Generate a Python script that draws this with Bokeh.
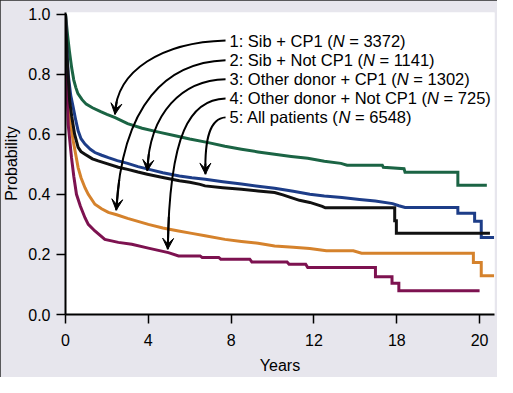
from bokeh.plotting import figure
from bokeh.models import Range1d, FixedTicker, PrintfTickFormatter, ColumnDataSource, Arrow, VeeHead
from bokeh.core.properties import value
from bokeh.embed import file_html
from bokeh.resources import INLINE

# ---------------- data ----------------
x_ticks = [0, 4, 8, 12, 16, 20]
x_tick_labels = ["0", "4", "8", "12", "18", "20"]
y_ticks = [0.0, 0.2, 0.4, 0.6, 0.8, 1.0]

# 1: Sib + CP1 (green)
sib_cp1_x = [0, 0.1, 0.2, 0.3, 0.4, 0.5, 0.6, 0.8, 1.0, 1.3, 1.7, 2.0, 2.4, 3.0, 3.7, 4.5, 5.3, 6.0,
             6.9, 7.7, 8.5, 9.3, 10.1, 10.9, 11.7, 12.5, 13.3, 13.6, 15.3, 15.35, 16.35, 16.4,
             18.95, 18.95, 20.35]
sib_cp1_y = [1.0, 0.93, 0.87, 0.82, 0.78, 0.755, 0.735, 0.715, 0.70, 0.688, 0.675, 0.666, 0.655, 0.635,
             0.62, 0.607, 0.595, 0.584, 0.572, 0.56, 0.55, 0.541, 0.533, 0.526, 0.52, 0.51, 0.503, 0.497,
             0.497, 0.49, 0.485, 0.473, 0.473, 0.43, 0.43]

# 5: All patients (blue)
all_x = [0, 0.05, 0.13, 0.25, 0.37, 0.5, 0.61, 0.75, 0.94, 1.2, 1.42, 1.75, 2.07, 2.5, 3.0, 3.5, 4.04,
         4.7, 5.5, 6.1, 6.75, 7.6, 8.5, 9.3, 10.1, 11.0, 11.8, 12.5, 13.35, 14.2, 14.96, 15.8, 16.1,
         16.4, 18.95, 18.95, 19.76, 19.76, 20.08, 20.08, 20.7]
all_y = [1.0, 0.9, 0.80, 0.73, 0.69, 0.645, 0.611, 0.585, 0.567, 0.55, 0.539, 0.53, 0.522, 0.512, 0.503,
         0.492, 0.483, 0.472, 0.461, 0.455, 0.45, 0.442, 0.434, 0.427, 0.42, 0.41, 0.40, 0.394, 0.389,
         0.383, 0.378, 0.369, 0.362, 0.356, 0.356, 0.337, 0.337, 0.31, 0.31, 0.256, 0.256]

# 3: Other donor + CP1 (black)
oth_cp1_x = [0, 0.08, 0.2, 0.3, 0.44, 0.61, 0.75, 0.94, 1.3, 1.58, 2.0, 2.55, 3.0, 3.5, 3.95, 4.7, 5.5,
             6.0, 6.5, 6.74, 7.6, 8.5, 9.3, 10.1, 10.5, 10.9, 11.3, 11.8, 12.4, 12.55, 15.9, 15.9,
             15.98, 15.98, 20.5]
oth_cp1_y = [1.0, 0.85, 0.711, 0.66, 0.60, 0.556, 0.542, 0.533, 0.518, 0.511, 0.502, 0.49, 0.483, 0.474,
             0.467, 0.456, 0.445, 0.44, 0.433, 0.428, 0.422, 0.417, 0.411, 0.406, 0.398, 0.389, 0.38,
             0.373, 0.36, 0.355, 0.355, 0.312, 0.312, 0.27, 0.27]

# 2: Sib + Not CP1 (orange)
sib_not_x = [0, 0.05, 0.13, 0.25, 0.37, 0.5, 0.61, 0.75, 0.94, 1.1, 1.42, 1.74, 2.07, 2.47, 3.0, 3.5,
             4.0, 4.7, 5.46, 6.1, 6.74, 7.7, 8.5, 9.3, 10.1, 11.0, 11.8, 12.6, 13.9, 14.3, 19.7, 19.7,
             20.08, 20.08, 20.7]
sib_not_y = [1.0, 0.85, 0.71, 0.63, 0.578, 0.53, 0.489, 0.455, 0.422, 0.40, 0.367, 0.352, 0.34, 0.332,
             0.32, 0.31, 0.30, 0.288, 0.278, 0.27, 0.262, 0.25, 0.243, 0.237, 0.228, 0.224, 0.22, 0.212,
             0.212, 0.204, 0.204, 0.173, 0.173, 0.129, 0.129]

# 4: Other donor + Not CP1 (purple)
oth_not_x = [0, 0.05, 0.13, 0.29, 0.4, 0.53, 0.72, 0.94, 1.1, 1.42, 1.9, 2.55, 3.2, 4.0, 4.97, 5.46,
             6.5, 6.6, 7.4, 7.5, 8.9, 9.0, 10.7, 10.8, 11.6, 11.7, 14.97, 14.97, 15.77, 15.77,
             16.1, 16.1, 20.0]
oth_not_y = [1.0, 0.8, 0.633, 0.522, 0.46, 0.40, 0.36, 0.322, 0.30, 0.278, 0.25, 0.24, 0.234, 0.221,
             0.206, 0.195, 0.195, 0.19, 0.19, 0.184, 0.184, 0.175, 0.175, 0.167, 0.167, 0.156, 0.156,
             0.126, 0.126, 0.104, 0.104, 0.079, 0.079]

labels = ["1: Sib + CP1 (", "2: Sib + Not CP1 (", "3: Other donor + CP1 (",
          "4: Other donor + Not CP1 (", "5: All patients ("]
counts = ["= 3372)", "= 1141)", "= 1302)", "= 725)", "= 6548)"]

# arrow anchors (data units): start, control 1, control 2, tip
arrows = [
    [(7.73, 0.912), (4.68, 0.906), (2.45, 0.813), (2.39, 0.666)],
    [(7.73, 0.846), (4.92, 0.839), (2.74, 0.706), (2.45, 0.347)],
    [(7.73, 0.783), (5.65, 0.780), (4.05, 0.673), (3.95, 0.478)],
    [(7.73, 0.719), (6.03, 0.716), (5.01, 0.606), (4.94, 0.217)],
    [(7.73, 0.656), (7.00, 0.653), (6.71, 0.590), (6.76, 0.467)],
]

# ---------------- styling ----------------
FONT = "Liberation Sans"
BG = "#e7e6ed"
colors = {"green": "#1b6444", "blue": "#1d3d88", "black": "#111111",
          "orange": "#d5822c", "purple": "#7d1250"}

p = figure(width=497, height=377, x_range=Range1d(0, 20.72), y_range=Range1d(0, 1.005),
           output_backend="svg", toolbar_location=None,
           min_border_left=65, min_border_right=3, min_border_top=12, min_border_bottom=63)
p.background_fill_color = "white"
p.border_fill_color = BG
p.outline_line_color = None
p.xgrid.visible = False
p.ygrid.visible = False
p.styles = {"outline": "2px solid #2a2a2a", "outline-offset": "-2px"}

for ax in (p.xaxis[0], p.yaxis[0]):
    ax.axis_line_color = "black"
    ax.axis_line_width = 2
    ax.major_tick_line_color = "black"
    ax.major_tick_line_width = 1.5
    ax.major_tick_in = 0
    ax.major_tick_out = 9
    ax.minor_tick_line_color = None
    ax.major_label_text_font = FONT
    ax.major_label_text_font_size = "16px"
    ax.major_label_text_color = "black"
    ax.axis_label_text_font = FONT
    ax.axis_label_text_font_size = "16px"
    ax.axis_label_text_font_style = "normal"
    ax.axis_label_text_color = "black"

p.xaxis.ticker = FixedTicker(ticks=x_ticks)
p.xaxis.major_label_overrides = {t: l for t, l in zip(x_ticks, x_tick_labels)}
p.xaxis.axis_label = "Years"
p.xaxis.major_label_standoff = 10
p.xaxis.axis_label_standoff = 8
p.yaxis.ticker = FixedTicker(ticks=y_ticks)
p.yaxis.formatter = PrintfTickFormatter(format="%.1f")
p.yaxis.axis_label = "Probability"
p.yaxis.major_label_standoff = 6
p.yaxis.axis_label_standoff = 5

series = [
    (sib_cp1_x, sib_cp1_y, colors["green"]),
    (sib_not_x, sib_not_y, colors["orange"]),
    (oth_not_x, oth_not_y, colors["purple"]),
    (all_x, all_y, colors["blue"]),
    (oth_cp1_x, oth_cp1_y, colors["black"]),
]
for xs, ys, c in series:
    p.line(xs, ys, line_color=c, line_width=3, line_join="miter")

# ---------------- arrows ----------------
for (p0, c1, c2, p3) in arrows:
    p.bezier(x0=[p0[0]], y0=[p0[1]], x1=[p3[0]], y1=[p3[1]],
             cx0=[c1[0]], cy0=[c1[1]], cx1=[c2[0]], cy1=[c2[1]],
             line_color="black", line_width=2)
    t = 0.9
    bx = (1-t)**3*p0[0] + 3*(1-t)**2*t*c1[0] + 3*(1-t)*t**2*c2[0] + t**3*p3[0]
    by = (1-t)**3*p0[1] + 3*(1-t)**2*t*c1[1] + 3*(1-t)*t**2*c2[1] + t**3*p3[1]
    p.add_layout(Arrow(end=VeeHead(size=11, fill_color="black", line_color="black", line_width=1),
                       x_start=bx, y_start=by, x_end=p3[0], y_end=p3[1],
                       line_color="black", line_width=2))

# ---------------- legend text with italic N ----------------
AW = {'0': 556, '1': 556, '2': 556, '3': 556, '4': 556, '5': 556, '6': 556, '7': 556, '8': 556, '9': 556,
      ':': 278, ' ': 278, '+': 584, '(': 333, ')': 333, '=': 584, 'N': 722, 'S': 667, 'i': 222,
      'b': 556, 'C': 722, 'P': 667, 'o': 556, 't': 278, 'O': 778, 'h': 556, 'e': 556, 'r': 333,
      'd': 556, 'n': 556, 'A': 667, 'l': 222, 'p': 556, 'a': 556, 's': 500}
FS = 16.5


def tw(s):
    return sum(AW.get(ch, 556) for ch in s) * FS / 1000.0


text_x = 7.92
row_y = [0.909, 0.846, 0.783, 0.719, 0.656]
plain_x, plain_y, plain_t, plain_off = [], [], [], []
ital_x, ital_y, ital_off = [], [], []
for lab, cnt, yy in zip(labels, counts, row_y):
    w0 = tw(lab)
    plain_x += [text_x, text_x]
    plain_y += [yy, yy]
    plain_t += [lab, cnt]
    plain_off += [0, w0 + tw("N ")]
    ital_x.append(text_x)
    ital_y.append(yy)
    ital_off.append(w0)

p.text(x="x", y="y", text="t", x_offset="o",
       source=ColumnDataSource(dict(x=plain_x, y=plain_y, t=plain_t, o=plain_off)),
       text_font=value(FONT), text_font_size=value(f"{FS}px"), text_color="black",
       text_baseline="middle", text_align="left")
p.text(x="x", y="y", text="t", x_offset="o",
       source=ColumnDataSource(dict(x=ital_x, y=ital_y, t=["N"] * len(ital_x), o=ital_off)),
       text_font=value(FONT), text_font_size=value(f"{FS}px"), text_font_style="italic",
       text_color="black", text_baseline="middle", text_align="left")

open("out.html", "w").write(file_html(p, INLINE))
